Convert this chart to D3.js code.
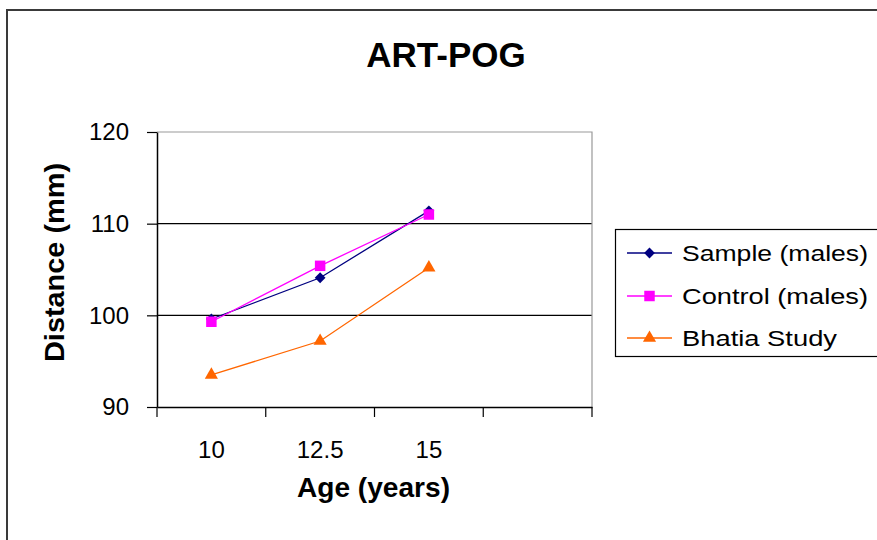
<!DOCTYPE html>
<html>
<head>
<meta charset="utf-8">
<script src="https://cdn.jsdelivr.net/npm/d3@7"></script>
<style>
  html, body { margin: 0; padding: 0; background: #fff; }
  svg { display: block; font-family: Arial, "Liberation Sans", sans-serif; }
</style>
</head>
<body>
<svg id="chart" width="877" height="540"></svg>
<script>
// ---- data ----
const categories = ["10", "12.5", "15", ""];
const sampleMales = [99.6, 104.1, 111.4];
const controlMales = [99.3, 105.4, 111.0];
const bhatiaStudy = [93.5, 97.2, 105.2];
const yTicks = [90, 100, 110, 120];
const seriesNames = ["Sample (males)", "Control (males)", "Bhatia Study"];
const titleText = "ART-POG";
const xTitle = "Age (years)";
const yTitle = "Distance (mm)";

const series = [
  { name: seriesNames[0], values: sampleMales, color: "#000080", symbol: d3.symbolSquare, size: 58, rot: 45 },
  { name: seriesNames[1], values: controlMales, color: "#FF00FF", symbol: d3.symbolSquare, size: 110, rot: 0 },
  { name: seriesNames[2], values: bhatiaStudy, color: "#FF6600", symbol: d3.symbolTriangle, size: 75, rot: 0 }
];

const svg = d3.select("#chart");

// outer chart border
svg.append("rect").attr("x", 7).attr("y", 10).attr("width", 900).attr("height", 560)
  .attr("fill", "#fff").attr("stroke", "#3a3a3a").attr("stroke-width", 2);

const pLeft = 157, pRight = 592, pTop = 132, pBottom = 407;
const x = d3.scaleBand().domain(categories).range([pLeft, pRight]).padding(0);
const y = d3.scaleLinear().domain([90, 120]).range([pBottom, pTop]);

// gridlines
svg.append("g").selectAll("line").data(yTicks.filter(v => v !== 90 && v !== 120)).join("line")
  .attr("x1", pLeft).attr("x2", pRight).attr("y1", d => y(d)).attr("y2", d => y(d))
  .attr("stroke", "#000").attr("stroke-width", 1.2);

// plot area border (top & right grey)
svg.append("path").attr("d", `M${pLeft},${y(120)}H${pRight}V${pBottom}`)
  .attr("fill", "none").attr("stroke", "#999").attr("stroke-width", 1.2);

// y axis
const yAxis = svg.append("g").attr("transform", `translate(${pLeft},0)`)
  .call(d3.axisLeft(y).tickValues(yTicks).tickSize(10).tickPadding(18).tickSizeOuter(0));
yAxis.select(".domain").attr("stroke", "#000").attr("stroke-width", 1.5);
yAxis.selectAll(".tick line").attr("stroke", "#000").attr("stroke-width", 1.2);
yAxis.selectAll(".tick text").attr("font-size", 24).attr("fill", "#000")
  .attr("font-family", "Arial, 'Liberation Sans', sans-serif");

// x axis: labels centered in bands, ticks at band boundaries
const xAxis = svg.append("g").attr("transform", `translate(0,${pBottom})`)
  .call(d3.axisBottom(x).tickSize(0).tickPadding(0).tickSizeOuter(0));
xAxis.select(".domain").attr("stroke", "#000").attr("stroke-width", 1.5);
xAxis.selectAll(".tick text").attr("font-size", 24).attr("fill", "#000")
  .attr("y", 51).attr("dy", 0)
  .attr("font-family", "Arial, 'Liberation Sans', sans-serif");
const boundaries = d3.range(categories.length + 1).map(i => pLeft + i * x.step());
svg.append("g").selectAll("line").data(boundaries).join("line")
  .attr("x1", d => d).attr("x2", d => d).attr("y1", pBottom).attr("y2", pBottom + 10)
  .attr("stroke", "#000").attr("stroke-width", 1.2);

// lines and markers
const cx = (i) => x(categories[i]) + x.bandwidth() / 2;
const line = d3.line().x((d, i) => cx(i)).y(d => y(d));
series.forEach(s => {
  svg.append("path").datum(s.values).attr("d", line)
    .attr("fill", "none").attr("stroke", s.color).attr("stroke-width", 1.3);
  svg.append("g").selectAll("path").data(s.values).join("path")
    .attr("transform", (d, i) => `translate(${cx(i)},${y(d)}) rotate(${s.rot})`)
    .attr("d", d3.symbol().type(s.symbol).size(s.size))
    .attr("fill", s.color);
});

// titles
svg.append("text").attr("x", 446).attr("y", 67).attr("text-anchor", "middle")
  .attr("font-size", 35).attr("font-weight", "bold").text(titleText);
svg.append("text").attr("x", 373.5).attr("y", 497).attr("text-anchor", "middle")
  .attr("font-size", 27).attr("font-weight", "bold")
  .attr("textLength", 153).attr("lengthAdjust", "spacingAndGlyphs").text(xTitle);
svg.append("text").attr("transform", "translate(64,262.5) rotate(-90)").attr("text-anchor", "middle")
  .attr("font-size", 28).attr("font-weight", "bold")
  .attr("textLength", 199).attr("lengthAdjust", "spacingAndGlyphs").text(yTitle);

// legend
const lg = svg.append("g");
lg.append("rect").attr("x", 615.5).attr("y", 229.5).attr("width", 300).attr("height", 127)
  .attr("fill", "#fff").attr("stroke", "#000").attr("stroke-width", 1.2);
const rowY = [253, 296, 338];
series.forEach((s, i) => {
  const g = lg.append("g").attr("transform", `translate(0,${rowY[i]})`);
  g.append("line").attr("x1", 627).attr("x2", 672).attr("y1", 0).attr("y2", 0)
    .attr("stroke", s.color).attr("stroke-width", 1.3);
  g.append("path").attr("transform", `translate(649.5,0) rotate(${s.rot})`)
    .attr("d", d3.symbol().type(s.symbol).size(s.size)).attr("fill", s.color);
  g.append("text").attr("x", 682).attr("y", 8).attr("font-size", 22)
    .attr("textLength", i === 2 ? 155 : 186).attr("lengthAdjust", "spacingAndGlyphs")
    .text(s.name);
});
</script>
</body>
</html>
